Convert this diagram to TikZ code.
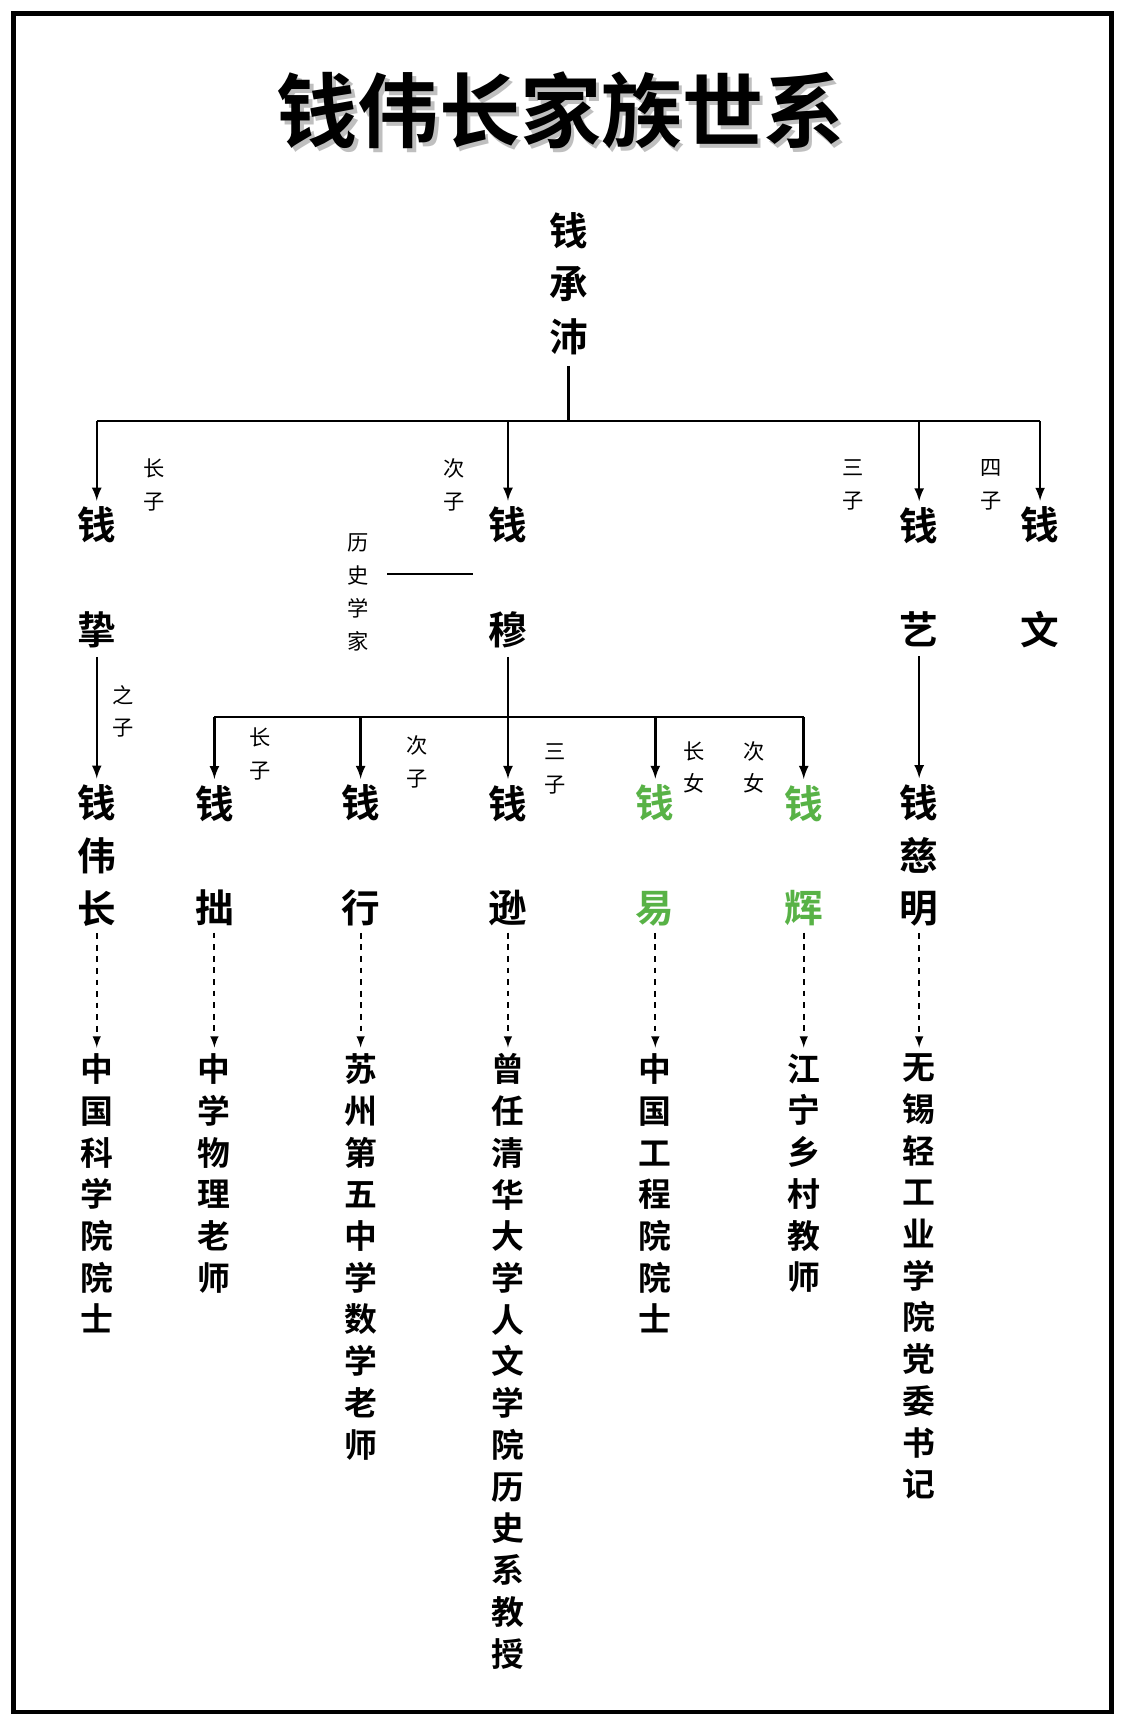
\documentclass[tikz,border=0pt]{standalone}
\usepackage{fontspec}
\newfontfamily\cjk{Noto Sans CJK SC}[BoldFont={Noto Sans CJK SC Bold}]
\usetikzlibrary{arrows.meta}
\definecolor{qgreen}{RGB}{88,178,70}

\tikzset{
	person/.style={inner sep=0pt,align=center,font=\cjk\bfseries\fontsize{20}{27.3}\selectfont},
	wide/.style={font=\cjk\bfseries\fontsize{20}{54}\selectfont},
	job/.style={inner sep=0pt,align=center,anchor=north,font=\cjk\bfseries\fontsize{17}{21.6}\selectfont},
	rel/.style={inner sep=0pt,align=center,font=\cjk\fontsize{11}{17}\selectfont},
	tree/.style={line width=1.3pt},
	down/.style={->,>=latex,line width=1.3pt},
	dots/.style={->,>=latex,line width=1pt,dashed}
}

\begin{document}
\begin{tikzpicture}[x=0.02cm,y=-0.02cm]
	\useasboundingbox (0,0) rectangle (1023,1568);
	\draw[line width=2.5pt] (12,12) rectangle (1011,1557);

	% title
	\node[text=black!25,font=\cjk\bfseries\fontsize{42}{42}\selectfont] at (513,104) {钱伟长家族世系};
	\node[font=\cjk\bfseries\fontsize{42}{42}\selectfont] (title) at (510,100) {钱伟长家族世系};

	% generation 1
	\node[person] (chengpei) at (517,258) {钱\\承\\沛};

	% generation 2
	\node[person,wide] (zhi) at (88,525) {钱\\挚};
	\node[person,wide] (mu) at (462,525) {钱\\穆};
	\node[person,wide] (yi) at (836,525) {钱\\艺};
	\node[person,wide] (wen) at (946,525) {钱\\文};

	\coordinate (bus1) at (517,383);
	\draw[tree] (chengpei.south) ++(0,10) -- (bus1);
	\draw[tree] (zhi.north |- bus1) -- (wen.north |- bus1);
	\foreach \n in {zhi,mu,yi,wen}
		\draw[down] (\n.north |- bus1) -- ([yshift=3pt]\n.north);

	\node[rel] (r1) at (140,441) {长\\子};
	\node[rel] (r2) at (413,441) {次\\子};
	\node[rel] (r3) at (776,441) {三\\子};
	\node[rel] (r4) at (901,441) {四\\子};

	\node[rel] (hist) at (326,539) {历\\史\\学\\家};
	\coordinate (histend) at (430,522);
	\draw[line width=0.8pt] (352,522) -- (histend);

	% generation 3
	\node[person] (weichang) at (88,778) {钱\\伟\\长};
	\node[person,wide] (zhuo) at (195,778) {钱\\拙};
	\node[person,wide] (xing) at (328,778) {钱\\行};
	\node[person,wide] (xun) at (462,778) {钱\\逊};
	\node[person,wide,text=qgreen] (yi2) at (596,778) {钱\\易};
	\node[person,wide,text=qgreen] (hui) at (731,778) {钱\\辉};
	\node[person] (ciming) at (836,778) {钱\\慈\\明};

	\draw[down] (zhi.south) ++(0,8) -- ([yshift=3pt]weichang.north);
	\draw[down] (yi.south) ++(0,8) -- ([yshift=3pt]ciming.north);
	\node[rel] (r5) at (112,647) {之\\子};

	\coordinate (bus2) at (462,652);
	\draw[tree] (mu.south) ++(0,8) -- (bus2);
	\draw[tree] (zhuo.north |- bus2) -- (hui.north |- bus2);
	\foreach \n in {zhuo,xing,xun,yi2,hui}
		\draw[down] (\n.north |- bus2) -- ([yshift=3pt]\n.north);

	\node[rel] (r6) at (237,686) {长\\子};
	\node[rel] (r7) at (379,693) {次\\子};
	\node[rel] (r8) at (505,699) {三\\子};
	\node[rel] (r9) at (631,698) {长\\女};
	\node[rel] (r10) at (686,698) {次\\女};

	% careers
	\node[job] (j1) at (88,958) {中\\国\\科\\学\\院\\院\\士};
	\node[job] (j2) at (195,958) {中\\学\\物\\理\\老\\师};
	\node[job] (j3) at (328,958) {苏\\州\\第\\五\\中\\学\\数\\学\\老\\师};
	\node[job] (j4) at (462,958) {曾\\任\\清\\华\\大\\学\\人\\文\\学\\院\\历\\史\\系\\教\\授};
	\node[job] (j5) at (596,958) {中\\国\\工\\程\\院\\院\\士};
	\node[job] (j6) at (731,958) {江\\宁\\乡\\村\\教\\师};
	\node[job] (j7) at (836,958) {无\\锡\\轻\\工\\业\\学\\院\\党\\委\\书\\记};

	\foreach \a/\b in {weichang/j1,zhuo/j2,xing/j3,xun/j4,yi2/j5,hui/j6,ciming/j7}
		\draw[dots] (\a.south) ++(0,6) -- ([yshift=3pt]\b.north);
\end{tikzpicture}
\end{document}
